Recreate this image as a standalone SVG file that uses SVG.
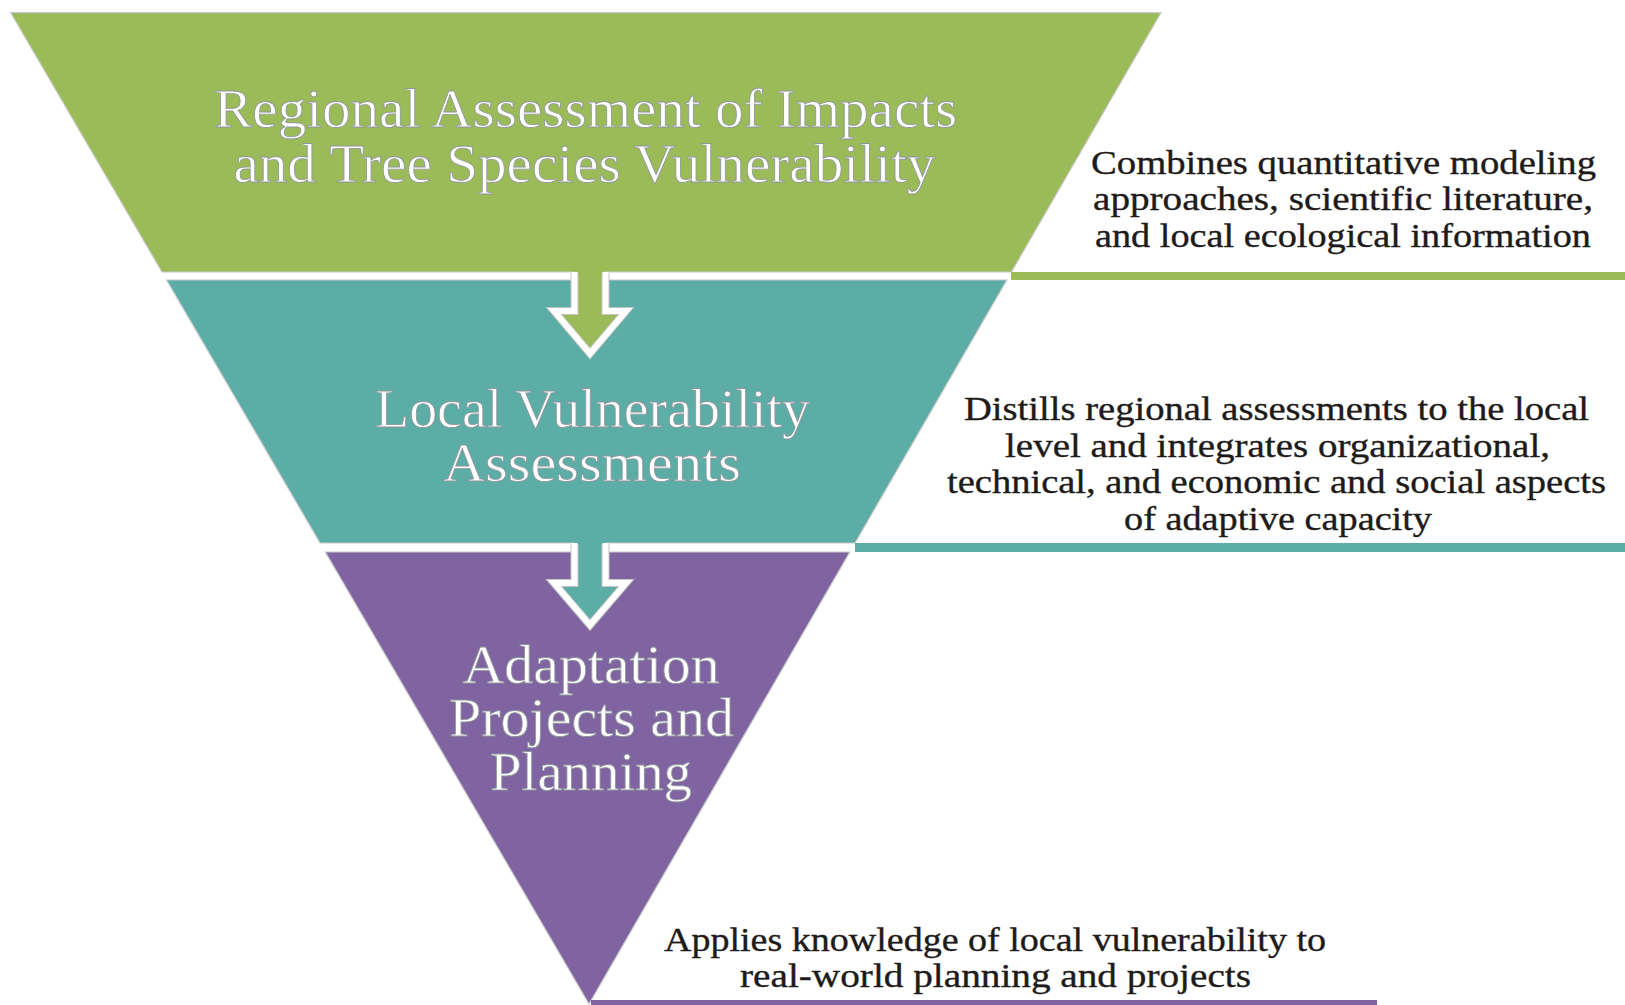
<svg xmlns="http://www.w3.org/2000/svg" width="1625" height="1005" viewBox="0 0 1625 1005">
<style>
.band{stroke:#c8c8c8;stroke-width:1.2}
.title{font-family:"Liberation Serif","Times New Roman",serif;font-size:54px;fill:#ffffff;stroke:#8f959c;stroke-width:0.8}
.desc{font-family:"Liberation Serif","Times New Roman",serif;font-size:33px;fill:#1e1b1a;stroke:#1e1b1a;stroke-width:0.35}
.outline-g{fill:none;stroke:#c4c4c4;stroke-width:8;stroke-linejoin:miter}
.outline-w{fill:none;stroke:#ffffff;stroke-width:6;stroke-linejoin:miter}
</style>
<rect width="1625" height="1005" fill="#ffffff"/>

<g id="node-regional">
<polygon class="band" points="10.7,12.7 1161,12.7 1011.4,272 162,272" fill="#9bbb59"/>
<text class="title" x="214.3" y="127" textLength="743" lengthAdjust="spacingAndGlyphs">Regional Assessment of Impacts</text>
<text class="title" x="233.4" y="182" textLength="702" lengthAdjust="spacingAndGlyphs">and Tree Species Vulnerability</text>
</g>

<g id="node-local">
<polygon class="band" points="166.6,280 1006.8,280 855,543 320.1,543" fill="#5badA6"/>
<text class="title" x="375" y="427" textLength="435" lengthAdjust="spacingAndGlyphs">Local Vulnerability</text>
<text class="title" x="443" y="481" textLength="298" lengthAdjust="spacingAndGlyphs">Assessments</text>
</g>

<g id="node-adaptation">
<polygon class="band" points="325.3,552 849.8,552 589,1004" fill="#8064a2"/>
<text class="title" x="462.6" y="683" textLength="257" lengthAdjust="spacingAndGlyphs">Adaptation</text>
<text class="title" x="449" y="736" textLength="285" lengthAdjust="spacingAndGlyphs">Projects and</text>
<text class="title" x="490" y="790" textLength="202" lengthAdjust="spacingAndGlyphs">Planning</text>
</g>

<g id="connectors">
<g id="arrow-regional-local">
<polygon points="574.5,269 605.5,269 605.5,311 626,311 590,353.5 554,311 574.5,311" fill="#9bbb59"/>
<polyline class="outline-g" points="574.5,273 574.5,311 554,311 590,353.5 626,311 605.5,311 605.5,273"/>
<polyline class="outline-w" points="574.5,272 574.5,311 554,311 590,353.5 626,311 605.5,311 605.5,272"/>
</g>
<g id="arrow-local-adaptation">
<polygon points="574.5,540 605.5,540 605.5,583 626,583 590,625 554,583 574.5,583" fill="#5badA6"/>
<polyline class="outline-g" points="574.5,544 574.5,583 554,583 590,625 626,583 605.5,583 605.5,544"/>
<polyline class="outline-w" points="574.5,543 574.5,583 554,583 590,625 626,583 605.5,583 605.5,543"/>
</g>
</g>

<g id="note-regional">
<rect x="1011" y="272" width="614" height="8" fill="#9bbb59"/>
<text class="desc" x="1091" y="174" textLength="505" lengthAdjust="spacingAndGlyphs">Combines quantitative modeling</text>
<text class="desc" x="1093" y="210" textLength="500" lengthAdjust="spacingAndGlyphs">approaches, scientific literature,</text>
<text class="desc" x="1095" y="247" textLength="496" lengthAdjust="spacingAndGlyphs">and local ecological information</text>
</g>

<g id="note-local">
<rect x="855" y="543" width="770" height="9" fill="#5badA6"/>
<text class="desc" x="964" y="420" textLength="625" lengthAdjust="spacingAndGlyphs">Distills regional assessments to the local</text>
<text class="desc" x="1005" y="457" textLength="545" lengthAdjust="spacingAndGlyphs">level and integrates organizational,</text>
<text class="desc" x="947" y="493" textLength="659" lengthAdjust="spacingAndGlyphs">technical, and economic and social aspects</text>
<text class="desc" x="1124" y="530" textLength="308" lengthAdjust="spacingAndGlyphs">of adaptive capacity</text>
</g>

<g id="note-adaptation">
<rect x="591" y="1000" width="786" height="5" fill="#8064a2"/>
<text class="desc" x="664" y="951" textLength="662" lengthAdjust="spacingAndGlyphs">Applies knowledge of local vulnerability to</text>
<text class="desc" x="740" y="987" textLength="511" lengthAdjust="spacingAndGlyphs">real-world planning and projects</text>
</g>
</svg>
